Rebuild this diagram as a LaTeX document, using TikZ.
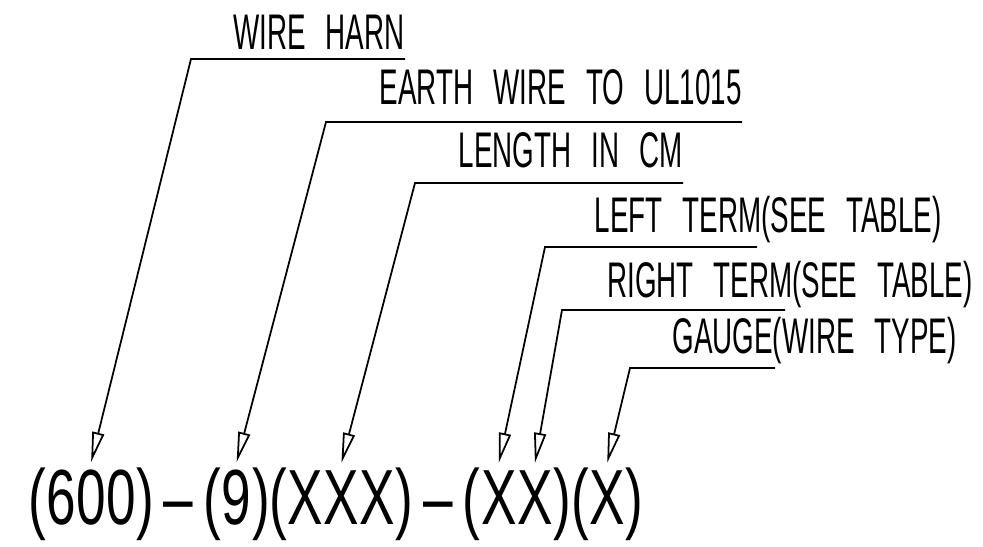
\documentclass[tikz,border=0pt]{standalone}
\usepackage{fontspec}
\setmainfont{Liberation Sans}
\newfontfamily\lblfont{Liberation Sans}[FakeStretch=0.555, WordSpace=2.6]
\newfontfamily\codefont{Liberation Sans}[FakeStretch=0.68]
\usetikzlibrary{arrows.meta}

\begin{document}
\begin{tikzpicture}[x=0.02cm, y=-0.02cm,
    lbl/.style={anchor=base east, inner sep=0pt, font=\lblfont\fontsize{28.5}{32}\selectfont},
    code/.style={anchor=base west, inner xsep=0pt, inner ysep=4pt, font=\codefont\fontsize{44.5}{50}\selectfont},
    lead/.style={line width=1pt, -{Triangle[open, length=0.6cm, width=0.24cm, line width=1pt]}}]
                \useasboundingbox (0,0) rectangle (983,547);
                % labels
                \node[lbl] (harn) at (405,50) {WIRE HARN};
                \node[lbl] (earth) at (742,105) {EARTH WIRE TO UL1015};
                \node[lbl] (length) at (683,168) {LENGTH IN CM};
                \node[lbl] (left) at (942,233) {LEFT TERM(SEE TABLE)};
                \node[lbl] (right) at (973,297) {RIGHT TERM(SEE TABLE)};
                \node[lbl] (gauge) at (957,353) {GAUGE(WIRE TYPE)};
                % part number
                \node[code] (b0) at (28,524) {(6};
                \node[code] (t1) at (b0.base east) {0};
                \node[code] (b1) at (t1.base east) {0)\kern5.7pt–\kern5.7pt(};
                \node[code] (t2) at (b1.base east) {9};
                \node[code] (b2) at (t2.base east) {)(X};
                \node[code] (t3) at (b2.base east) {X};
                \node[code] (b3) at (t3.base east) {X)\kern5.7pt–\kern5.7pt(};
                \node[code] (t4) at (b3.base east) {X};
                \node[code] (t5) at (t4.base east) {X};
                \node[code] (b4) at (t5.base east) {)(};
                \node[code] (t6) at (b4.base east) {X};
                \node[code] (b5) at (t6.base east) {)};
                % leaders
                \coordinate (leftend) at (757,247);
                \coordinate (rightend) at (785,310);
                \coordinate (gaugeend) at (775,368);
                \draw[lead] (harn.base east |- 0,59) -- (191,59) -- (t1.north);
                \draw[lead] (earth.base east |- 0,122) -- (326,122) -- (t2.north);
                \draw[lead] (length.base east |- 0,183) -- (415,183) -- (t3.north);
                \draw[lead] (leftend) -- (545,247) -- (t4.north);
                \draw[lead] (rightend) -- (562,310) -- (t5.north);
                \draw[lead] (gaugeend) -- (630,368) -- (t6.north);
            \end{tikzpicture}
\end{document}
